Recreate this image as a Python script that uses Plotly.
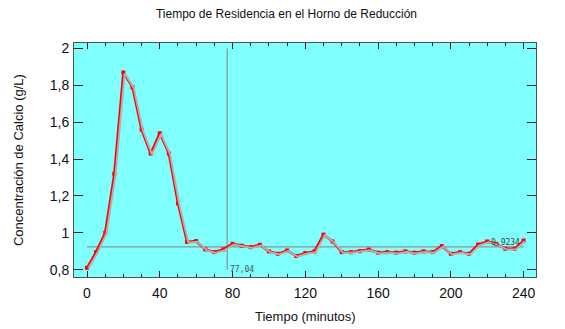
import plotly.graph_objects as go

# ---- data ----
tiempo = list(range(0, 245, 5))
concentracion = [
    0.81, 0.895, 1.00, 1.32, 1.87, 1.79, 1.56, 1.43, 1.54, 1.43,
    1.16, 0.95, 0.955, 0.91, 0.895, 0.91, 0.94, 0.93, 0.922, 0.935,
    0.899, 0.886, 0.904, 0.874, 0.89, 0.899, 0.99, 0.953, 0.895, 0.895,
    0.90, 0.909, 0.892, 0.895, 0.892, 0.899, 0.892, 0.899, 0.895, 0.928,
    0.886, 0.895, 0.886, 0.936, 0.953, 0.94, 0.913, 0.913, 0.958,
]
t_marca = 77.04
c_marca = 0.9234
x_ticks = [0, 40, 80, 120, 160, 200, 240]
y_ticks = [0.8, 1.0, 1.2, 1.4, 1.6, 1.8, 2.0]
y_ticktext = ["0,8", "1", "1,2", "1,4", "1,6", "1,8", "2"]
etiqueta_t = "77,04"
etiqueta_c = "0,9234"

titulo = "Tiempo de Residencia en el Horno de Reducción"
x_titulo = "Tiempo (minutos)"
y_titulo = "Concentración de Calcio (g/L)"

# ---- layout constants ----
xr = [-7.15, 246.8]
yr = [0.760, 2.030]
dx = 0.7      # shadow offset (data units)
dy = 0.004
frame = "#3c5858"
ref = "#8c7c78"
font = "Liberation Sans, Arial, sans-serif"
txt = "#111111"
page_pad = 8  # default body margin of the html page

fig = go.Figure()

# shadow
fig.add_trace(go.Scatter(
    x=tiempo, y=concentracion, xaxis="x2", yaxis="y2",
    mode="lines", line=dict(color="#b0b0b0", width=2),
    hoverinfo="skip", showlegend=False))
# main series
fig.add_trace(go.Scatter(
    x=tiempo, y=concentracion, mode="lines+markers",
    line=dict(color="#ff0000", width=2.4),
    marker=dict(color="#ff0000", size=4, symbol="square"),
    showlegend=False))

# reference lines
fig.add_shape(type="line", x0=t_marca, x1=t_marca, y0=y_ticks[0], y1=y_ticks[-1],
              xref="x", yref="y", line=dict(color=ref, width=1), layer="below")
fig.add_shape(type="line", x0=tiempo[0], x1=tiempo[-1], y0=c_marca, y1=c_marca,
              xref="x", yref="y", line=dict(color=ref, width=1), layer="below")

fig.add_annotation(x=t_marca, y=y_ticks[0], xref="x", yref="y", text=etiqueta_t,
                   showarrow=False, xanchor="left", yanchor="middle", xshift=1,
                   font=dict(family="DejaVu Sans Mono, monospace", size=8, color="#505050"))
fig.add_annotation(x=tiempo[-1], y=c_marca, xref="x", yref="y", text=etiqueta_c,
                   showarrow=False, xanchor="right", yanchor="bottom", xshift=-2, yshift=-2,
                   font=dict(family="DejaVu Sans Mono, monospace", size=8, color="#404040"))

# axis titles as annotations for exact placement
fig.add_annotation(x=0.5, y=-0.167, xref="paper", yref="paper", text=x_titulo,
                   showarrow=False, xanchor="center", yanchor="middle",
                   font=dict(family=font, size=13, color=txt))
fig.add_annotation(x=-0.121, y=0.5, xref="paper", yref="paper", text=y_titulo,
                   showarrow=False, xanchor="center", yanchor="middle", textangle=-90,
                   font=dict(family=font, size=13, color=txt))

axis_common = dict(showgrid=False, zeroline=False, showline=True, linecolor=frame,
                   linewidth=1, mirror="ticks", ticks="inside", tickcolor="#202020",
                   automargin=False,
                   tickfont=dict(family=font, size=14, color=txt))

fig.update_layout(
    width=565 - page_pad, height=329 - page_pad,
    margin=dict(l=74 - page_pad, r=29, t=43 - page_pad, b=52, autoexpand=False),
    paper_bgcolor="white", plot_bgcolor="#80ffff",
    title=dict(text=titulo, x=0.5, xanchor="center", y=0.981, yanchor="middle",
               font=dict(family=font, size=12, color=txt)),
    xaxis=dict(range=xr, tickvals=x_ticks, ticklen=6, tickwidth=1,
               ticklabelstandoff=3,
               minor=dict(dtick=10, tick0=0, ticks="inside", ticklen=3, tickcolor="#202020"),
               **axis_common),
    yaxis=dict(range=yr, tickvals=y_ticks, ticktext=y_ticktext, ticklen=9, tickwidth=1,
               ticklabelstandoff=1,
               **axis_common),
    xaxis2=dict(range=[xr[0] - dx, xr[1] - dx], overlaying="x", visible=False),
    yaxis2=dict(range=[yr[0] + dy, yr[1] + dy], overlaying="y", visible=False),
)

fig.write_html("out.html")
